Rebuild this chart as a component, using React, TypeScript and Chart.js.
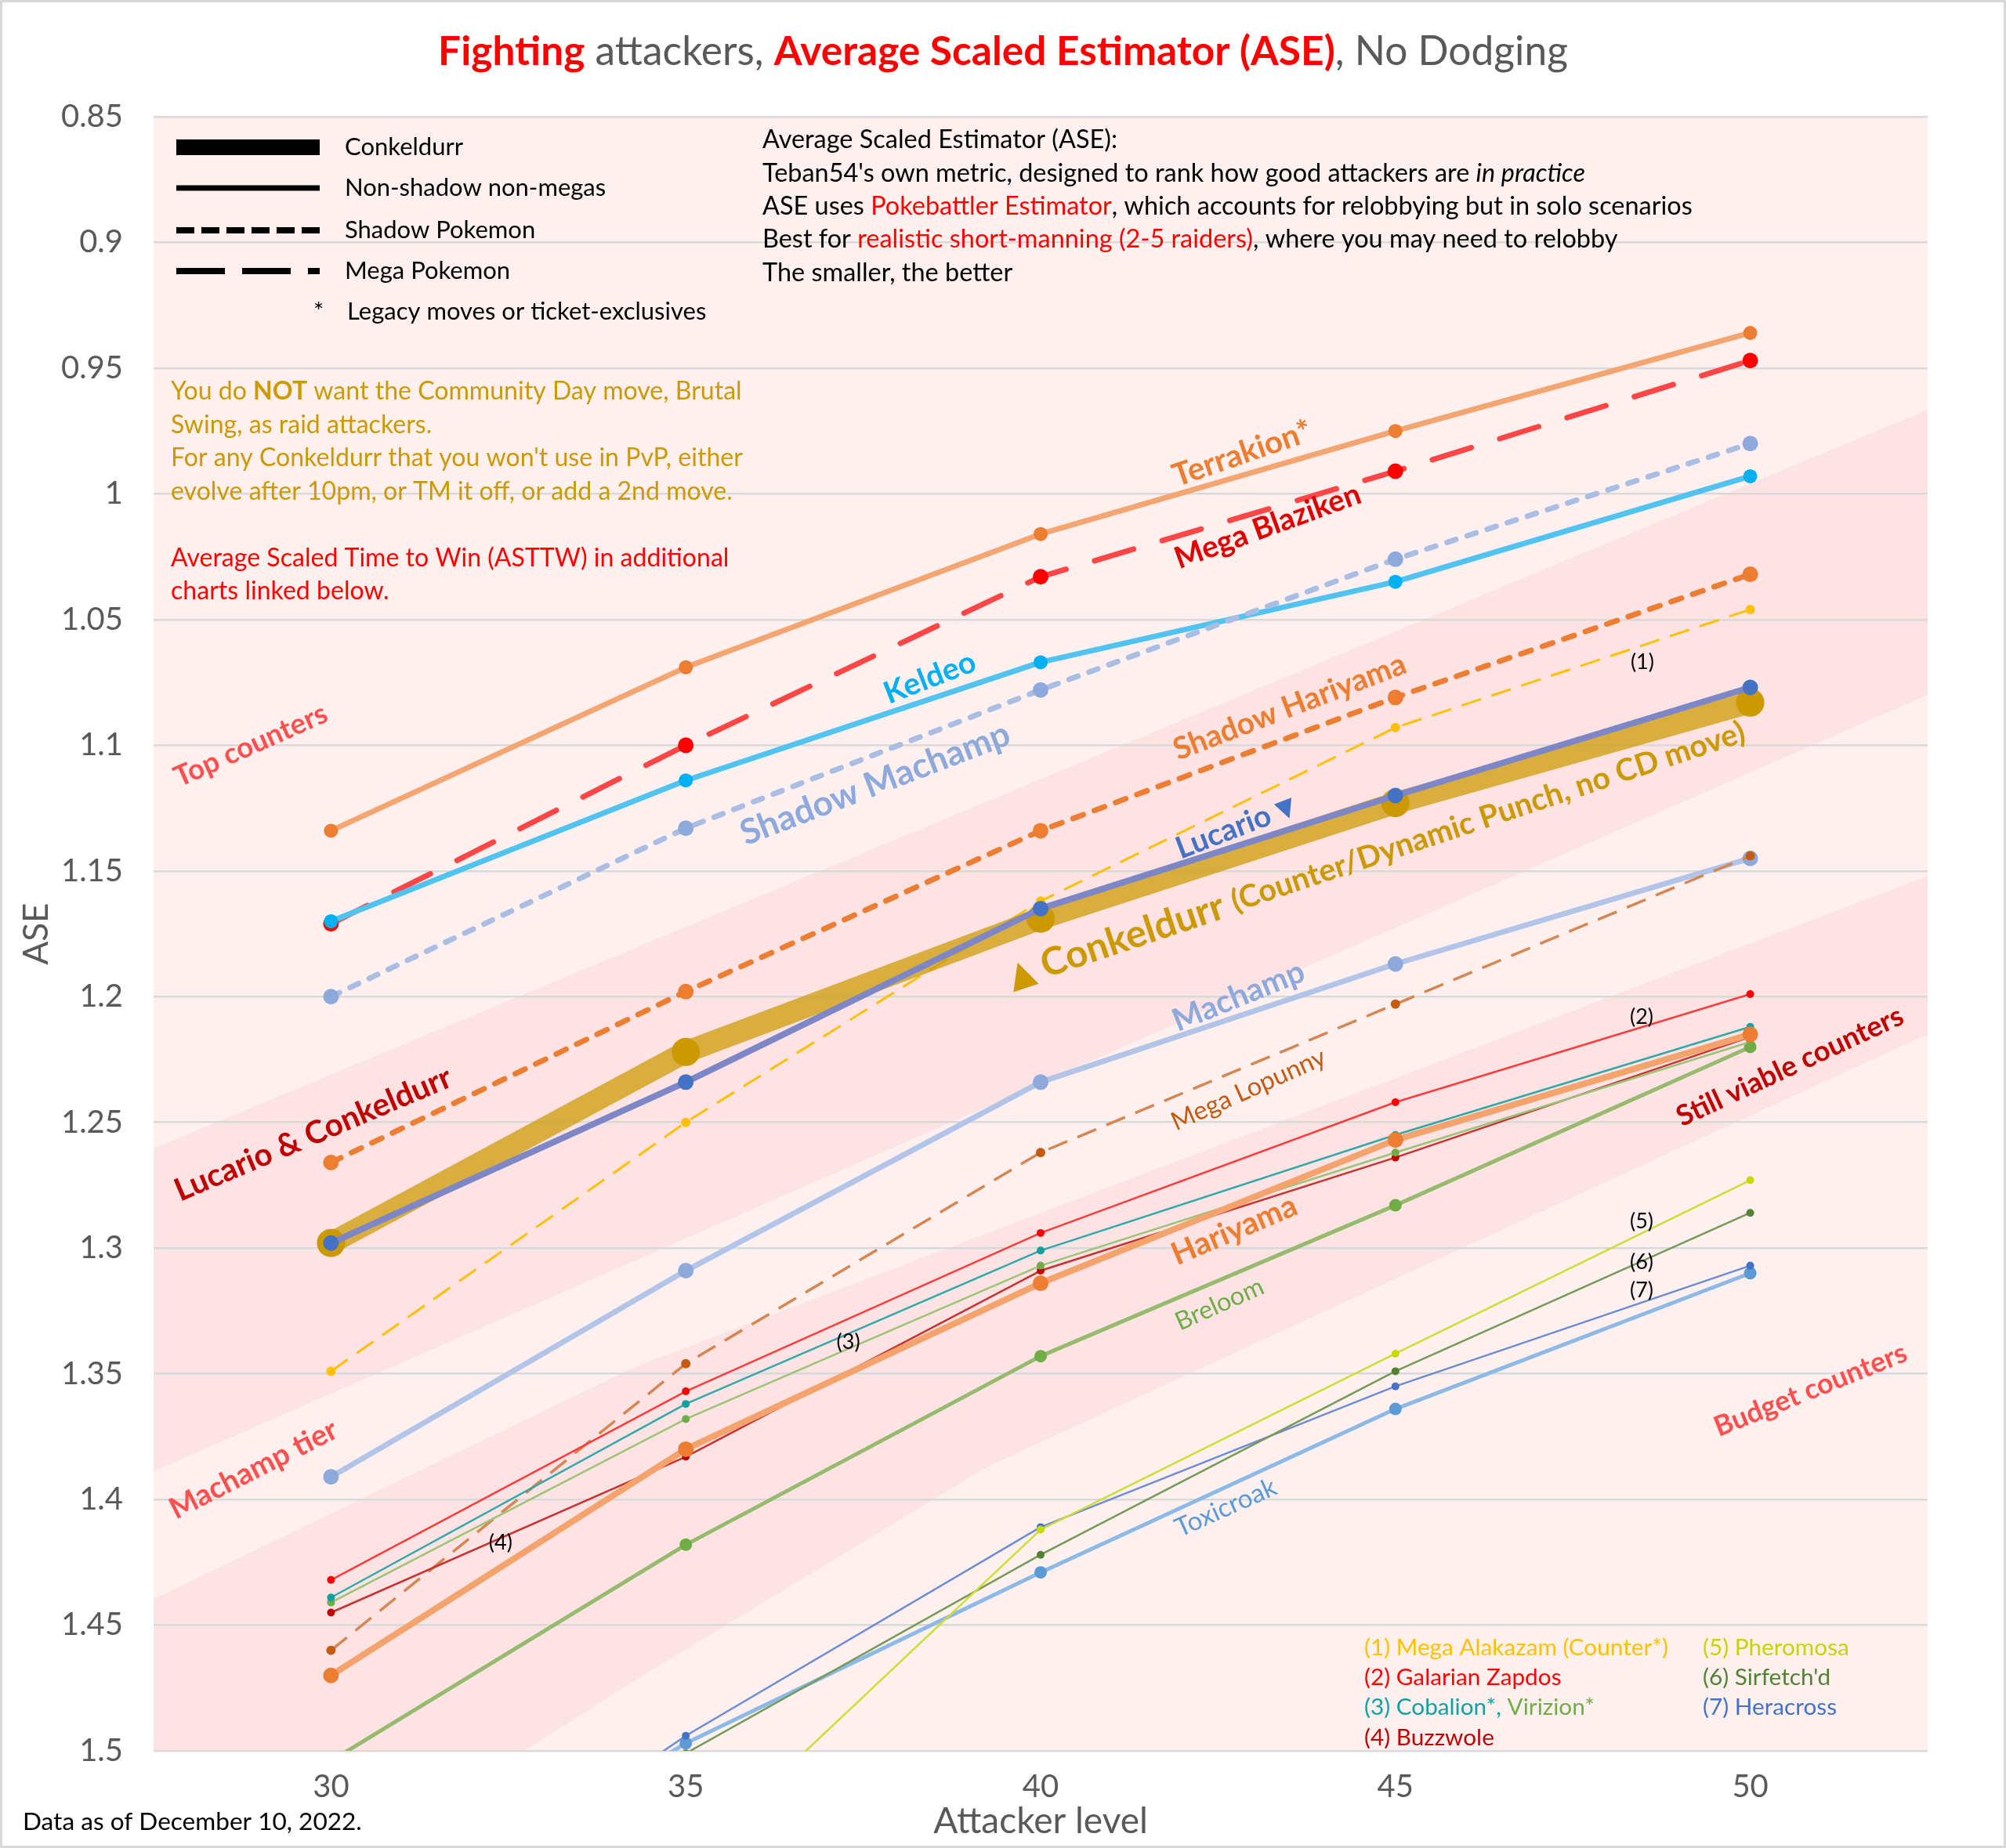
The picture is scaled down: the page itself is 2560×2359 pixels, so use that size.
import React, { useEffect, useRef } from 'react';
import { Chart, registerables } from 'chart.js';

Chart.register(...registerables);

const W = 2560;
const H = 2359;

// ---------- data ----------
const levels = [30, 35, 40, 45, 50];
const xTickLabels = ['30', '35', '40', '45', '50'];
const yTickValues = [0.85, 0.9, 0.95, 1, 1.05, 1.1, 1.15, 1.2, 1.25, 1.3, 1.35, 1.4, 1.45, 1.5];
const yTickLabels = ['0.85', '0.9', '0.95', '1', '1.05', '1.1', '1.15', '1.2', '1.25', '1.3', '1.35', '1.4', '1.45', '1.5'];

const terrakion = [1.134, 1.069, 1.016, 0.975, 0.936];
const megaBlaziken = [1.171, 1.1, 1.033, 0.991, 0.947];
const keldeo = [1.17, 1.114, 1.067, 1.035, 0.993];
const shadowMachamp = [1.2, 1.133, 1.078, 1.026, 0.98];
const shadowHariyama = [1.266, 1.198, 1.134, 1.081, 1.032];
const megaAlakazam = [1.349, 1.25, 1.162, 1.093, 1.046];
const lucario = [1.298, 1.234, 1.165, 1.12, 1.077];
const conkeldurr = [1.298, 1.222, 1.169, 1.123, 1.083];
const machamp = [1.391, 1.309, 1.234, 1.187, 1.145];
const megaLopunny = [1.46, 1.346, 1.262, 1.203, 1.144];
const galarianZapdos = [1.432, 1.357, 1.294, 1.242, 1.199];
const cobalion = [1.439, 1.362, 1.301, 1.255, 1.212];
const virizion = [1.441, 1.368, 1.307, 1.262, 1.218];
const buzzwole = [1.445, 1.383, 1.309, 1.264, 1.216];
const hariyama = [1.47, 1.38, 1.314, 1.257, 1.215];
const breloom = [1.504, 1.418, 1.343, 1.283, 1.22];
const pheromosa = [null, 1.545, 1.412, 1.342, 1.273];
const sirfetchd = [1.6, 1.501, 1.422, 1.349, 1.286];
const heracross = [1.59, 1.494, 1.411, 1.355, 1.307];
const toxicroak = [1.58, 1.497, 1.429, 1.364, 1.31];

// ---------- styles ----------
const FONT = 'Lato, "DejaVu Sans", sans-serif';
const PLOT_BG = '#FFF0F0';
const BAND_BG = '#FDE3E3';
const GRID = '#D9D9D9';
const AXIS_TXT = '#595959';

// series, first = drawn on top
const series = [
  { name: 'Lucario', values: lucario, line: 'rgb(125,135,200)', marker: '#4472C4', w: 8, r: 10 },
  { name: 'Conkeldurr', values: conkeldurr, line: 'rgba(204,153,0,0.72)', marker: '#CC9900', w: 28, r: 18 },
  { name: 'Mega Alakazam', values: megaAlakazam, line: '#FFC000', marker: '#FFC000', w: 3, r: 6, dash: [26, 14] },
  { name: 'Hariyama', values: hariyama, line: 'rgb(244,163,108)', marker: '#ED7D31', w: 8, r: 10 },
  { name: 'Galarian Zapdos', values: galarianZapdos, line: 'rgb(255,60,60)', marker: '#FF0000', w: 2.5, r: 5 },
  { name: 'Cobalion', values: cobalion, line: 'rgb(50,168,168)', marker: '#12A0A0', w: 2.5, r: 5 },
  { name: 'Virizion', values: virizion, line: 'rgb(155,196,118)', marker: '#70AD47', w: 2.5, r: 5 },
  { name: 'Buzzwole', values: buzzwole, line: 'rgb(200,50,50)', marker: '#C00000', w: 2.5, r: 5 },
  { name: 'Mega Lopunny', values: megaLopunny, line: 'rgb(214,134,80)', marker: '#C55A11', w: 3.5, r: 6, dash: [26, 14] },
  { name: 'Machamp', values: machamp, line: 'rgb(178,196,232)', marker: '#8EA9DB', w: 7, r: 10 },
  { name: 'Breloom', values: breloom, line: 'rgb(150,186,110)', marker: '#70AD47', w: 5, r: 8 },
  { name: 'Pheromosa', values: pheromosa, line: 'rgb(206,222,50)', marker: '#C6D900', w: 2.5, r: 5 },
  { name: "Sirfetch'd", values: sirfetchd, line: 'rgb(118,155,88)', marker: '#548235', w: 2.5, r: 5 },
  { name: 'Heracross', values: heracross, line: 'rgb(110,140,210)', marker: '#4472C4', w: 2.5, r: 5 },
  { name: 'Toxicroak', values: toxicroak, line: 'rgb(140,185,230)', marker: '#5B9BD5', w: 5, r: 8 },
  { name: 'Shadow Hariyama', values: shadowHariyama, line: '#ED7D31', marker: '#ED7D31', w: 7, r: 10, dash: [14, 15], cap: 'round' },
  { name: 'Shadow Machamp', values: shadowMachamp, line: 'rgb(170,190,228)', marker: '#8EA9DB', w: 7, r: 10, dash: [12, 15], cap: 'round' },
  { name: 'Keldeo', values: keldeo, line: 'rgb(80,195,240)', marker: '#00B0F0', w: 7, r: 9 },
  { name: 'Mega Blaziken', values: megaBlaziken, line: 'rgb(255,70,70)', marker: '#FF0000', w: 7, r: 10, dash: [52, 38], cap: 'round' },
  { name: 'Terrakion', values: terrakion, line: 'rgb(244,165,112)', marker: '#ED7D31', w: 7, r: 9 },
];

// tier bands (level, ASE) outlines
const bands = [
  {
    top: [[27.5, 1.2604], [52.5, 0.9665]],
    bottom: [[27.5, 1.3888], [52.5, 1.08]],
  },
  {
    top: [[27.5, 1.4396], [34.28, 1.3473], [52.5, 1.152]],
    bottom: [[27.5, 1.594], [34.28, 1.472], [39.25, 1.387], [49.18, 1.258], [52.5, 1.215]],
  },
];

type Seg = { t: string; c: string; b?: boolean; i?: boolean; s?: number };

const lineLabels: { segs: Seg[]; at: [number, number]; angle: number; w: number }[] = [
  { segs: [{ t: 'Terrakion*', c: '#ED7D31', b: true }], at: [42.84, 0.984], angle: -19, w: 185 },
  { segs: [{ t: 'Mega Blaziken', c: '#E00000', b: true }], at: [43.2, 1.013], angle: -20, w: 250 },
  { segs: [{ t: 'Keldeo', c: '#00B0F0', b: true }], at: [38.44, 1.0732], angle: -21, w: 122 },
  { segs: [{ t: 'Shadow Machamp', c: '#8EA9DB', b: true }], at: [37.67, 1.1154], angle: -21, w: 365 },
  { segs: [{ t: 'Shadow Hariyama', c: '#ED7D31', b: true }], at: [43.51, 1.0848], angle: -21, w: 315 },
  { segs: [{ t: 'Lucario ', c: '#4472C4', b: true }, { t: '▼', c: '#4472C4', b: true, s: 0.8 }], at: [42.75, 1.1327], angle: -21, w: 160 },
  {
    segs: [
      { t: '▲ ', c: '#CC9900', b: true, s: 0.9 },
      { t: 'Conkeldurr ', c: '#CC9900', b: true },
      { t: '(Counter/Dynamic Punch, no CD move)', c: '#CC9900', b: true, s: 0.8 },
    ],
    at: [44.73, 1.1434], angle: -18.5, w: 990,
  },
  { segs: [{ t: 'Machamp', c: '#8EA9DB', b: true }], at: [42.79, 1.1999], angle: -22, w: 178 },
  { segs: [{ t: 'Mega Lopunny', c: '#C55A11' }], at: [42.93, 1.237], angle: -24, w: 212 },
  { segs: [{ t: 'Hariyama', c: '#ED7D31', b: true }], at: [42.73, 1.2929], angle: -23, w: 170 },
  { segs: [{ t: 'Breloom', c: '#70AD47' }], at: [42.52, 1.3224], angle: -24, w: 120 },
  { segs: [{ t: 'Toxicroak', c: '#5B9BD5' }], at: [42.61, 1.4033], angle: -24, w: 138 },
  { segs: [{ t: 'Top counters', c: '#FF5050', b: true }], at: [28.87, 1.1001], angle: -24, w: 210 },
  { segs: [{ t: 'Lucario & Conkeldurr', c: '#C00000', b: true }], at: [29.75, 1.2547], angle: -23, w: 380 },
  { segs: [{ t: 'Machamp tier', c: '#FF5050', b: true }], at: [28.91, 1.3881], angle: -27, w: 235 },
  { segs: [{ t: 'Still viable counters', c: '#C00000', b: true }], at: [50.56, 1.2278], angle: -25, w: 315 },
  { segs: [{ t: 'Budget counters', c: '#FF5050', b: true }], at: [50.85, 1.3565], angle: -22, w: 262 },
];

const numberTags: { t: string; at: [number, number] }[] = [
  { t: '(1)', at: [48.48, 1.0671] },
  { t: '(2)', at: [48.47, 1.208] },
  { t: '(3)', at: [37.29, 1.3373] },
  { t: '(4)', at: [32.39, 1.4171] },
  { t: '(5)', at: [48.47, 1.2894] },
  { t: '(6)', at: [48.47, 1.3057] },
  { t: '(7)', at: [48.47, 1.3169] },
];

const titleSegs: Seg[] = [
  { t: 'Fighting', c: '#FF0000', b: true },
  { t: ' attackers, ', c: AXIS_TXT },
  { t: 'Average Scaled Estimator (ASE)', c: '#FF0000', b: true },
  { t: ', No Dodging', c: AXIS_TXT },
];

const descLines: Seg[][] = [
  [{ t: 'Average Scaled Estimator (ASE):', c: '#000' }],
  [{ t: "Teban54's own metric, designed to rank how good attackers are ", c: '#000' }, { t: 'in practice', c: '#000', i: true }],
  [{ t: 'ASE uses ', c: '#000' }, { t: 'Pokebattler Estimator', c: '#FF0000' }, { t: ', which accounts for relobbying but in solo scenarios', c: '#000' }],
  [{ t: 'Best for ', c: '#000' }, { t: 'realistic short-manning (2-5 raiders)', c: '#FF0000' }, { t: ', where you may need to relobby', c: '#000' }],
  [{ t: 'The smaller, the better', c: '#000' }],
];

const GOLD = '#CC9900';
const goldLines: Seg[][] = [
  [{ t: 'You do ', c: GOLD }, { t: 'NOT', c: GOLD, b: true }, { t: ' want the Community Day move, Brutal', c: GOLD }],
  [{ t: 'Swing, as raid attackers.', c: GOLD }],
  [{ t: "For any Conkeldurr that you won't use in PvP, either", c: GOLD }],
  [{ t: 'evolve after 10pm, or TM it off, or add a 2nd move.', c: GOLD }],
  [],
  [{ t: 'Average Scaled Time to Win (ASTTW) in additional', c: '#FF0000' }],
  [{ t: 'charts linked below.', c: '#FF0000' }],
];

const footCol1: Seg[][] = [
  [{ t: '(1) Mega Alakazam (Counter*)', c: '#FFC000' }],
  [{ t: '(2) Galarian Zapdos', c: '#FF0000' }],
  [{ t: '(3) Cobalion*,', c: '#12A0A0' }, { t: ' Virizion*', c: '#70AD47' }],
  [{ t: '(4) Buzzwole', c: '#C00000' }],
];
const footCol2: Seg[][] = [
  [{ t: '(5) Pheromosa', c: '#C2D600' }],
  [{ t: "(6) Sirfetch'd", c: '#548235' }],
  [{ t: '(7) Heracross', c: '#4472C4' }],
];

// ---------- text helpers ----------
function fontStr(size: number, b?: boolean, i?: boolean) {
  return `${i ? 'italic ' : ''}${b ? 'bold ' : ''}${size}px ${FONT}`;
}
function richWidth(ctx: CanvasRenderingContext2D, segs: Seg[], size: number) {
  let w = 0;
  for (const s of segs) {
    ctx.font = fontStr(size * (s.s || 1), s.b, s.i);
    w += ctx.measureText(s.t).width;
  }
  return w;
}
function drawRich(ctx: CanvasRenderingContext2D, segs: Seg[], x: number, y: number, size: number, align: 'left' | 'center') {
  const w = richWidth(ctx, segs, size);
  let cx = align === 'center' ? x - w / 2 : x;
  ctx.textAlign = 'left';
  ctx.textBaseline = 'middle';
  for (const s of segs) {
    ctx.font = fontStr(size * (s.s || 1), s.b, s.i);
    ctx.fillStyle = s.c;
    ctx.fillText(s.t, cx, y);
    cx += ctx.measureText(s.t).width;
  }
}
function fitSize(ctx: CanvasRenderingContext2D, segs: Seg[], target: number) {
  const base = 40;
  return (base * target) / richWidth(ctx, segs, base);
}

// ---------- plugins ----------
const backgroundPlugin = {
  id: 'tierBackground',
  beforeDraw(chart: any) {
    const { ctx, chartArea: a, scales } = chart;
    const x = scales.x;
    const y = scales.y;
    ctx.save();
    ctx.fillStyle = '#FFFFFF';
    ctx.fillRect(0, 0, chart.width, chart.height);
    ctx.fillStyle = PLOT_BG;
    ctx.fillRect(a.left, a.top, a.right - a.left, a.bottom - a.top);
    ctx.beginPath();
    ctx.rect(a.left, a.top, a.right - a.left, a.bottom - a.top);
    ctx.clip();
    ctx.fillStyle = BAND_BG;
    for (const band of bands) {
      ctx.beginPath();
      band.top.forEach((p, i) => {
        const px = x.getPixelForValue(p[0]);
        const py = y.getPixelForValue(p[1]);
        if (i === 0) ctx.moveTo(px, py);
        else ctx.lineTo(px, py);
      });
      for (let i = band.bottom.length - 1; i >= 0; i--) {
        const p = band.bottom[i];
        ctx.lineTo(x.getPixelForValue(p[0]), y.getPixelForValue(p[1]));
      }
      ctx.closePath();
      ctx.fill();
    }
    ctx.restore();
  },
};

const annotationPlugin = {
  id: 'annotations',
  afterDraw(chart: any) {
    const { ctx, chartArea: a, scales } = chart;
    const x = scales.x;
    const y = scales.y;
    ctx.save();

    // title
    const ts = fitSize(ctx, titleSegs, 1442);
    drawRich(ctx, titleSegs, chart.width / 2, 66, ts, 'center');

    // style legend (top-left)
    const lx0 = a.left + 29;
    const lx1 = a.left + 212;
    const rows = [39, 91, 145, 197, 249].map((d) => a.top + d);
    ctx.strokeStyle = '#000';
    ctx.lineCap = 'butt';
    const legendLine = (yy: number, lw: number, dash: number[]) => {
      ctx.beginPath();
      ctx.setLineDash(dash);
      ctx.lineWidth = lw;
      ctx.moveTo(lx0, yy);
      ctx.lineTo(lx1, yy);
      ctx.stroke();
    };
    legendLine(rows[0], 20, []);
    legendLine(rows[1], 7, []);
    legendLine(rows[2], 8, [23, 9]);
    legendLine(rows[3], 8, [62, 22]);
    ctx.setLineDash([]);
    const lsize = 31;
    const ltx = a.left + 244;
    drawRich(ctx, [{ t: 'Conkeldurr', c: '#000' }], ltx, rows[0], lsize, 'left');
    drawRich(ctx, [{ t: 'Non-shadow non-megas', c: '#000' }], ltx, rows[1], lsize, 'left');
    drawRich(ctx, [{ t: 'Shadow Pokemon', c: '#000' }], ltx, rows[2], lsize, 'left');
    drawRich(ctx, [{ t: 'Mega Pokemon', c: '#000' }], ltx, rows[3], lsize, 'left');
    drawRich(ctx, [{ t: '*', c: '#000' }], a.left + 204, rows[4], lsize, 'left');
    drawRich(ctx, [{ t: 'Legacy moves or ticket-exclusives', c: '#000' }], a.left + 247, rows[4], lsize, 'left');

    // description block
    const ds = fitSize(ctx, descLines[2], 1187);
    descLines.forEach((ln, i) => drawRich(ctx, ln, a.left + 777, a.top + 30 + 42.3 * i, ds, 'left'));

    // gold note block
    const gs = fitSize(ctx, goldLines[0], 729);
    goldLines.forEach((ln, i) => {
      if (ln.length) drawRich(ctx, ln, a.left + 22, a.top + 351 + 42.5 * i, gs, 'left');
    });

    // footnotes
    const fs = fitSize(ctx, footCol1[0], 388);
    footCol1.forEach((ln, i) => drawRich(ctx, ln, 1741, 2103 + 38.3 * i, fs, 'left'));
    footCol2.forEach((ln, i) => drawRich(ctx, ln, 2173, 2103 + 38.3 * i, fs, 'left'));

    // line labels
    for (const L of lineLabels) {
      const px = x.getPixelForValue(L.at[0]);
      const py = y.getPixelForValue(L.at[1]);
      const sz = fitSize(ctx, L.segs, L.w);
      ctx.save();
      ctx.translate(px, py);
      ctx.rotate((L.angle * Math.PI) / 180);
      drawRich(ctx, L.segs, 0, 0, sz, 'center');
      ctx.restore();
    }
    for (const n of numberTags) {
      drawRich(ctx, [{ t: n.t, c: '#000' }], x.getPixelForValue(n.at[0]), y.getPixelForValue(n.at[1]), 27, 'center');
    }

    // data date
    const dd: Seg[] = [{ t: 'Data as of December 10, 2022.', c: '#000' }];
    drawRich(ctx, dd, 29, 2326, fitSize(ctx, dd, 433), 'left');

    // outer frame
    ctx.strokeStyle = GRID;
    ctx.lineWidth = 3;
    ctx.strokeRect(1.5, 1.5, chart.width - 3, chart.height - 3);
    ctx.restore();
  },
};

export default function App() {
  const ref = useRef<HTMLCanvasElement | null>(null);

  useEffect(() => {
    const canvas = ref.current;
    if (!canvas) return;
    const datasets = series.map((s: any) => ({
      label: s.name,
      data: levels.map((lv, i) => ({ x: lv, y: s.values[i] })),
      borderColor: s.line,
      backgroundColor: s.marker,
      pointBackgroundColor: s.marker,
      pointBorderColor: s.marker,
      pointBorderWidth: 0,
      pointRadius: s.r,
      pointHoverRadius: s.r,
      borderWidth: s.w,
      borderDash: s.dash || [],
      borderCapStyle: s.cap || 'butt',
      borderJoinStyle: 'round',
      tension: 0,
      fill: false,
      spanGaps: false,
      clip: 0,
    }));

    const chart = new Chart(canvas, {
      type: 'line',
      data: { datasets },
      plugins: [backgroundPlugin, annotationPlugin],
      options: {
        animation: false,
        responsive: false,
        devicePixelRatio: 1,
        layout: { padding: { left: 0, right: 100, top: 149, bottom: 0 } },
        plugins: {
          legend: { display: false },
          tooltip: { enabled: false },
          title: { display: false },
        },
        scales: {
          x: {
            type: 'linear',
            min: 27.5,
            max: 52.5,
            afterBuildTicks: (s: any) => {
              s.ticks = levels.map((v) => ({ value: v }));
            },
            afterFit: (s: any) => {
              s.height = 124;
            },
            grid: { display: false, drawTicks: false },
            border: { display: false },
            ticks: {
              color: AXIS_TXT,
              font: { family: FONT, size: 40 },
              padding: 22,
              maxRotation: 0,
              autoSkip: false,
              callback: (_v: any, i: number) => xTickLabels[i],
            },
            title: {
              display: true,
              text: 'Attacker level',
              color: AXIS_TXT,
              font: { family: FONT, size: 46 },
              padding: { top: 0, bottom: 6 },
            },
          },
          y: {
            type: 'linear',
            reverse: true,
            min: 0.85,
            max: 1.5,
            afterBuildTicks: (s: any) => {
              s.ticks = yTickValues.map((v) => ({ value: v }));
            },
            afterFit: (s: any) => {
              s.width = 196;
            },
            grid: { color: GRID, lineWidth: 2.5, drawTicks: false },
            border: { display: false },
            ticks: {
              color: AXIS_TXT,
              font: { family: FONT, size: 40 },
              padding: 39,
              autoSkip: false,
              callback: (_v: any, i: number) => yTickLabels[i],
            },
            title: {
              display: true,
              text: 'ASE',
              color: AXIS_TXT,
              font: { family: FONT, size: 44 },
              padding: { top: 20, bottom: 0 },
            },
          },
        },
      } as any,
    });
    return () => chart.destroy();
  }, []);

  return (
    <div style={{ position: 'absolute', left: 0, top: 0, width: W, height: H, background: '#fff' }}>
      <canvas ref={ref} width={W} height={H} style={{ display: 'block', width: W, height: H }} />
    </div>
  );
}
